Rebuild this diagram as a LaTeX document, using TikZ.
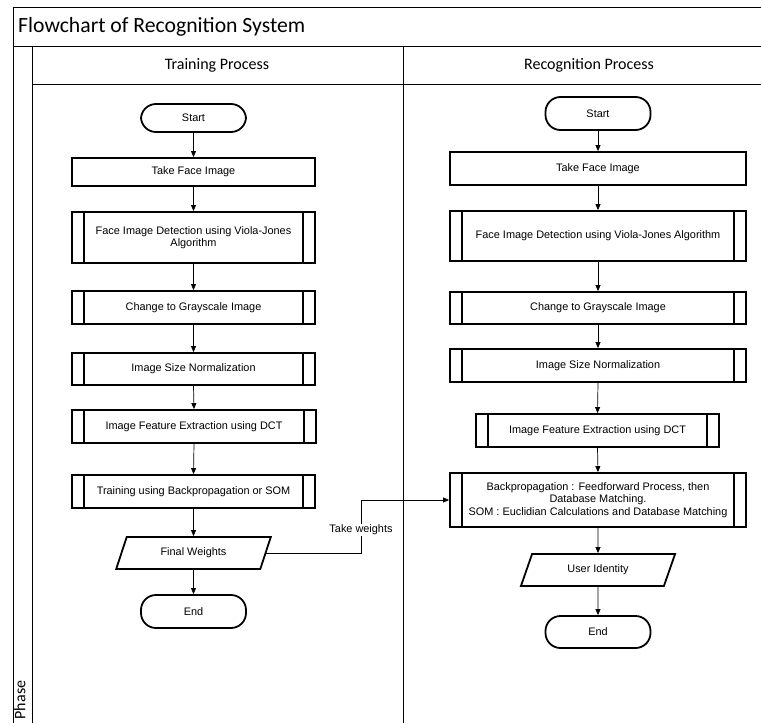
\documentclass[tikz,border=0pt]{standalone}
\usepackage{fontspec}
\setmainfont{Liberation Sans}
\newfontfamily\calibri{Carlito}
\usetikzlibrary{shapes.geometric,arrows.meta}

\begin{document}
\begin{tikzpicture}[x=1pt,y=-1pt,
    frame/.style={line width=1pt},
    flow/.style={-{Triangle[length=6pt,width=5pt]}, line width=0.7pt},
    boxtext/.style={font=\fontsize{10.9}{12.5}\selectfont, align=center},
    terminal/.style={draw, boxtext, line width=1.8pt, rounded corners=15pt,
        minimum width=105pt, inner sep=0pt},
    process/.style={draw, boxtext, line width=1.8pt, inner sep=0pt},
    inout/.style={draw, boxtext, line width=1.8pt, trapezium, trapezium stretches=true,
        trapezium left angle=63, trapezium right angle=117,
        minimum width=155pt, minimum height=32pt, inner sep=0pt},
    lbl/.style={boxtext, fill=white, inner sep=1pt}]
    \useasboundingbox (0,0) rectangle (761,723);

    % Draw the frame and the lanes
    \draw[frame] (13,723) -- (13,7) -- (761,7);
    \draw[frame] (13,46) -- (761,46);
    \draw[frame] (32,84) -- (761,84);
    \draw[frame] (32,46) -- (32,723);
    \draw[frame] (403,46) -- (403,723);

    % Title and lane headers
    \node[anchor=west, inner sep=0pt, font=\calibri\fontsize{21.7}{24}\selectfont] (title) at (18,26.5) {Flowchart of Recognition System};
    \node[font=\calibri\fontsize{16}{18}\selectfont] (training) at (217,65) {Training Process};
    \node[font=\calibri\fontsize{16}{18}\selectfont] (recognition) at (589,65) {Recognition Process};
    \node[rotate=90, inner sep=0pt, font=\calibri\fontsize{16}{18}\selectfont] (phase) at (20,700) {Phase};

    % Training process
    \node[terminal, minimum height=28pt] (tstart) at (193.5,118) {Start};
    \node[process, minimum width=243pt, minimum height=28pt] (ttake) at (193.5,172) {Take Face Image};
    \node[process, minimum width=243pt, minimum height=51pt] (tdet) at (193.5,237.5) {Face Image Detection using Viola-Jones\\Algorithm};
    \node[process, minimum width=243pt, minimum height=33pt] (tgray) at (193.5,307.5) {Change to Grayscale Image};
    \node[process, minimum width=243pt, minimum height=32pt] (tnorm) at (193.5,369) {Image Size Normalization};
    \node[process, minimum width=244pt, minimum height=33pt] (tfeat) at (194,426.5) {Image Feature Extraction using DCT};
    \node[process, minimum width=243pt, minimum height=33pt] (ttrain) at (193.5,491.5) {Training using Backpropagation or SOM};
    \node[inout] (tfinal) at (193.5,553) {Final Weights};
    \node[terminal, minimum height=33pt] (tend) at (193.5,611.5) {End};

    % Recognition process
    \node[terminal, minimum height=33pt] (rstart) at (598,113.5) {Start};
    \node[process, minimum width=296pt, minimum height=33pt] (rtake) at (598,168.5) {Take Face Image};
    \node[process, minimum width=296pt, minimum height=50pt] (rdet) at (598,236) {Face Image Detection using Viola-Jones Algorithm};
    \node[process, minimum width=296pt, minimum height=32pt] (rgray) at (598,308) {Change to Grayscale Image};
    \node[process, minimum width=296pt, minimum height=33pt] (rnorm) at (598,365.5) {Image Size Normalization};
    \node[process, minimum width=243pt, minimum height=33pt] (rfeat) at (597.5,430.5) {Image Feature Extraction using DCT};
    \node[process, minimum width=296pt, minimum height=54pt] (rback) at (598,500) {Backpropagation : Feedforward Process, then\\Database Matching.\\SOM : Euclidian Calculations and Database Matching};
    \node[inout] (ruser) at (598,570) {User Identity};
    \node[terminal, minimum height=32pt] (rend) at (598,632) {End};

    % Inner bars of the predefined processes
    \foreach \n in {tdet,tgray,tnorm,tfeat,ttrain,rdet,rgray,rnorm,rfeat,rback} {
        \draw[line width=1.3pt] ([xshift=13pt]\n.north west) -- ([xshift=13pt]\n.south west);
        \draw[line width=1.3pt] ([xshift=-13pt]\n.north east) -- ([xshift=-13pt]\n.south east);
    }

    % Draw the arrows
    \foreach \a/\b in {tstart/ttake,ttake/tdet,tdet/tgray,tgray/tnorm,tnorm/tfeat,tfeat/ttrain,ttrain/tfinal,tfinal/tend,
        rstart/rtake,rtake/rdet,rdet/rgray,rgray/rnorm,rnorm/rfeat,rfeat/rback,rback/ruser,ruser/rend}
        \draw[flow] (\a.south) -- (\b.north);

    % Weights go over to the recognition side
    \coordinate (wbend) at (361,500);
    \draw[flow] (tfinal.east) -| (wbend) -- (rback.west);
    \node[lbl] (wlabel) at (361,530) {Take weights};
\end{tikzpicture}
\end{document}
